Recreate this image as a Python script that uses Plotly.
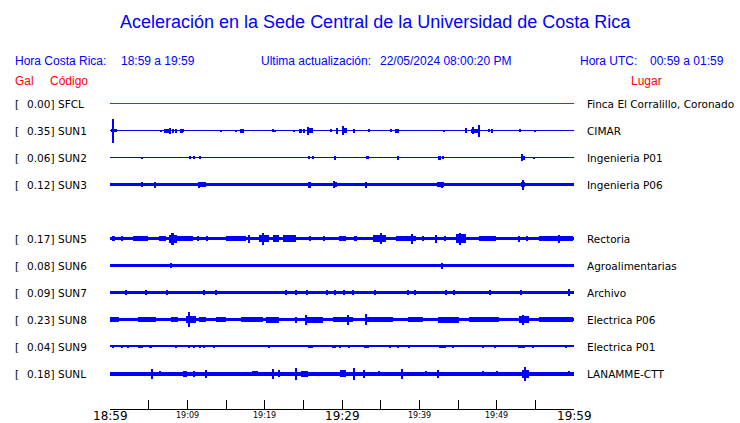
import plotly.graph_objects as go

# ---------------- data ----------------
TITLE = "Aceleración en la Sede Central de la Universidad de Costa Rica"
HORA_CR = "18:59 a 19:59"
ULTIMA = "22/05/2024 08:00:20 PM"
HORA_UTC = "00:59 a 01:59"

codes = ["SFCL", "SUN1", "SUN2", "SUN3", "SUN5", "SUN6", "SUN7", "SUN8", "SUN9", "SUNL"]
peak_gal = [0.00, 0.35, 0.06, 0.12, 0.17, 0.08, 0.09, 0.23, 0.04, 0.18]
places = ["Finca El Corralillo, Coronado", "CIMAR", "Ingenieria P01", "Ingenieria P06",
          "Rectoria", "Agroalimentarias", "Archivo", "Electrica P06", "Electrica P01",
          "LANAMME-CTT"]

# background noise level of each record (relative amplitude units)
noise = [0.5, 0.5, 0.5, 1.7, 1.9, 1.1, 1.7, 1.9, 0.6, 2.0]

# bursts read from the records: (start minute, end minute, amplitude)
bursts = {
    "SFCL": [],
    "SUN1": [(0.1, 0.9, 1.8), (0.43, 0.43, 12), (6.6, 6.6, 1), (7.0, 7.6, 2), (7.7, 7.7, 3),
             (8.0, 8.3, 2), (8.4, 8.7, 2), (9.0, 9.4, 2), (9.5, 9.5, 1.5), (14.4, 14.4, 1),
             (16.3, 16.3, 1), (16.8, 17.3, 2), (21.0, 21.2, 1.5), (21.4, 21.4, 1), (23.8, 23.8, 1),
             (24.5, 24.8, 2), (25.0, 25.2, 2), (25.5, 26.3, 2.3), (25.6, 25.6, 4), (28.6, 28.6, 1.5),
             (29.4, 29.4, 3), (30.0, 30.6, 2.5), (30.1, 30.1, 4.5), (31.5, 31.5, 2), (33.5, 33.5, 1.5),
             (36.3, 36.3, 1.5), (36.9, 37.4, 2), (43.2, 43.2, 1), (45.9, 46.2, 2.5), (46.7, 47.5, 2),
             (47.0, 47.0, 3.5), (47.5, 47.9, 2), (47.7, 47.7, 6), (49.0, 49.0, 1.5), (49.4, 49.4, 2),
             (53.0, 53.0, 1.5), (55.0, 55.0, 1)],
    "SUN2": [(4.2, 4.2, 1), (10.2, 10.5, 1.5), (10.8, 10.8, 1.5), (11.6, 11.6, 1.5), (25.6, 25.9, 1.5),
             (26.3, 26.3, 1.5), (29.0, 29.2, 2), (33.1, 33.5, 1.5), (37.3, 37.3, 2), (42.4, 42.8, 2),
             (43.0, 43.0, 1.5), (53.1, 53.7, 2), (53.3, 53.3, 3.5), (54.8, 54.8, 1)],
    "SUN3": [(4.2, 4.2, 2.5), (5.8, 5.8, 3), (11.5, 11.5, 3), (11.6, 12.4, 2.2), (25.6, 26.0, 3),
             (28.8, 29.4, 2.5), (29.0, 29.0, 3.5), (33.1, 33.1, 3), (42.3, 43.2, 2.3), (42.9, 42.9, 3),
             (53.2, 53.7, 2.5), (53.4, 53.4, 5)],
    "SUN5": [(0.3, 0.6, 2.7), (1.5, 1.7, 2.7), (3.0, 4.9, 2.8), (6.3, 7.2, 2.8), (7.6, 8.6, 4),
             (7.9, 8.3, 6), (8.5, 10.7, 2.8), (11.3, 11.5, 2.7), (12.5, 12.7, 2.7), (15.0, 17.6, 2.5),
             (18.0, 18.0, 4), (19.3, 20.6, 3.8), (19.8, 19.8, 6), (21.1, 21.9, 3.2), (22.4, 24.1, 3.2),
             (25.8, 26.0, 2.7), (27.6, 27.8, 2.7), (29.6, 30.5, 2.8), (31.5, 32.0, 2.7), (34.0, 35.7, 3.2),
             (35.0, 35.0, 5.5), (37.0, 39.6, 2.8), (39.1, 39.1, 5), (40.4, 40.6, 2.7), (42.2, 42.2, 4),
             (43.2, 43.4, 2.7), (44.7, 46.0, 4.2), (45.2, 45.2, 6), (47.7, 49.9, 2.8), (52.9, 52.9, 3),
             (53.8, 54.0, 2.7), (55.5, 59.9, 2.8), (58.0, 58.0, 4)],
    "SUN6": [(5.0, 5.0, 1.8), (7.9, 7.9, 2.5), (18.5, 18.5, 1.8), (30.0, 30.0, 1.8), (42.9, 42.9, 3),
             (45.5, 45.5, 1.8), (54.0, 54.0, 1.8)],
    "SUN7": [(2.1, 2.1, 2.6), (4.6, 4.6, 2.6), (7.4, 7.4, 2.6), (12.2, 12.2, 2.6), (13.7, 13.7, 2.6),
             (22.8, 22.8, 2.6), (24.1, 24.1, 2.6), (25.5, 25.5, 2.6), (28.1, 28.1, 2.6), (29.1, 29.1, 2.6),
             (30.2, 30.2, 2.6), (31.4, 31.4, 2.6), (34.3, 34.3, 2.6), (38.5, 38.5, 2.6), (39.4, 39.4, 2.6),
             (43.4, 43.4, 2.6), (44.5, 44.5, 2.6), (49.1, 49.1, 2.6), (53.1, 53.1, 2.6), (59.4, 59.4, 3.5)],
    "SUN8": [(0.0, 1.2, 2.9), (3.6, 6.0, 2.7), (7.9, 8.8, 2.9), (9.8, 11.1, 3.3), (10.2, 10.2, 7.5),
             (11.5, 12.4, 2.7), (13.7, 15.0, 2.7), (16.9, 19.8, 2.7), (20.2, 21.9, 3.0), (24.1, 24.1, 3),
             (25.3, 27.6, 3.0), (25.4, 25.4, 5), (28.8, 31.4, 2.7), (30.8, 30.8, 5), (33.1, 33.1, 5.5),
             (33.1, 36.6, 2.7), (38.5, 40.5, 2.7), (42.4, 45.1, 3.0), (46.4, 50.3, 2.7), (52.9, 54.2, 3.3),
             (53.4, 53.4, 5), (55.5, 59.9, 2.4)],
    "SUN9": [(0.4, 0.4, 1.5), (1.6, 1.6, 1.5), (2.3, 2.3, 1.5), (3.6, 4.3, 1.5), (5.1, 5.4, 1.5),
             (8.5, 8.5, 1.5), (10.2, 10.2, 1.5), (10.9, 10.9, 1.5), (11.6, 11.6, 1.5), (12.2, 12.2, 1.5),
             (13.5, 13.5, 1.5), (20.5, 20.5, 1.2), (25.6, 26.3, 1.5), (28.8, 28.8, 1.5), (29.1, 29.1, 1.5),
             (29.7, 29.7, 1.5), (30.9, 30.9, 1.5), (32.9, 33.5, 1.5), (36.2, 36.2, 1.2), (37.2, 37.2, 1.2),
             (38.6, 38.6, 1.2), (42.5, 43.4, 1.5), (44.3, 44.3, 1.2), (48.2, 48.2, 1.2), (49.8, 49.8, 1.5),
             (52.8, 53.7, 1.5), (54.7, 54.7, 1.2), (59.0, 59.0, 1.2)],
    "SUNL": [(5.4, 5.4, 5), (6.5, 6.5, 2.5), (9.5, 10.0, 3), (10.9, 10.9, 3), (12.4, 12.4, 4),
             (18.3, 19.2, 2.5), (21.1, 21.1, 5), (21.8, 21.8, 3.5), (24.1, 24.1, 6), (24.7, 25.6, 3),
             (29.8, 30.5, 3.5), (31.5, 31.5, 6), (32.9, 32.9, 4), (34.8, 34.8, 2.5), (37.8, 37.8, 5),
             (40.9, 40.9, 2.5), (42.4, 42.4, 4), (48.2, 48.2, 2.5), (50.1, 50.1, 2.5), (53.3, 54.2, 4),
             (53.6, 53.6, 7), (59.4, 59.4, 2.5)],
}

trace_colors = {"SFCL": "#ff0000"}
tick_minutes = list(range(0, 61, 5))
major_labels = {0: "18:59", 30: "19:29", 60: "19:59"}
minor_labels = {10: "19:09", 20: "19:19", 40: "19:39", 50: "19:49"}

# ---------------- layout helpers ----------------
W, H = 740, 423
ROW_ORDER = ["SFCL", "SUN1", "SUN2", "SUN3", "SUN4", "SUN5", "SUN6", "SUN7", "SUN8", "SUN9", "SUNL"]
ROW0, ROW_STEP = 103.5, 27.0
X0, X1 = 110, 574
AXIS_Y = 409
MIN_W = 0.13

BLUE = "#0000ff"
RED = "#ff0000"
HDR_FONT = "Liberation Sans, Arial, sans-serif"
LBL_FONT = "DejaVu Sans, sans-serif"

fig = go.Figure()

annotations = []

def px_ann(x, y, text, size, color, font, xanchor="left"):
    annotations.append(dict(x=x / W, xref="paper", y=y, yref="y", text=text, showarrow=False,
                            xanchor=xanchor, yanchor="middle",
                            font=dict(size=size, color=color, family=font)))

for code, gal, place, nz in zip(codes, peak_gal, places, noise):
    c = ROW0 + ROW_STEP * ROW_ORDER.index(code)
    color = trace_colors.get(code, BLUE)
    xs, ws, bases, hs = [30.0], [60.0], [c - nz], [2 * nz]
    for (s, e, a) in bursts[code]:
        xs.append((s + e) / 2)
        ws.append(max(e - s, MIN_W))
        bases.append(c - a)
        hs.append(2 * a)
    fig.add_trace(go.Bar(x=xs, y=hs, base=bases, width=ws, marker=dict(color=color, line=dict(width=0)),
                         showlegend=False, hoverinfo="skip"))
    px_ann(13, c, "[", 10.5, "black", LBL_FONT)
    px_ann(56, c, f"{gal:.2f}]", 10.5, "black", LBL_FONT, xanchor="right")
    px_ann(56, c, code, 10.5, "black", LBL_FONT)
    px_ann(585, c, place, 10.5, "black", LBL_FONT)

# header texts
annotations.append(dict(x=375 / W, xref="paper", y=22, yref="y", text=TITLE, showarrow=False,
                        xanchor="center", yanchor="middle",
                        font=dict(size=18, color=BLUE, family=HDR_FONT)))
px_ann(13, 60.5, "Hora Costa Rica:", 12, BLUE, HDR_FONT)
px_ann(119, 60.5, HORA_CR, 12, BLUE, HDR_FONT)
px_ann(259, 60.5, "Ultima actualización:", 12, BLUE, HDR_FONT)
px_ann(378, 60.5, ULTIMA, 12, BLUE, HDR_FONT)
px_ann(578, 60.5, "Hora UTC:", 12, BLUE, HDR_FONT)
px_ann(648, 60.5, HORA_UTC, 12, BLUE, HDR_FONT)
px_ann(13, 80.5, "Gal", 12, RED, HDR_FONT)
px_ann(48, 80.5, "Código", 12, RED, HDR_FONT)
px_ann(629, 80.5, "Lugar", 12, RED, HDR_FONT)

# time labels
for m, t in major_labels.items():
    annotations.append(dict(x=m, xref="x", y=416, yref="y", text=t, showarrow=False,
                            xanchor="center", yanchor="middle", borderpad=0,
                            font=dict(size=12, color="black", family=LBL_FONT)))
for m, t in minor_labels.items():
    annotations.append(dict(x=m, xref="x", y=415.5, yref="y", text=t, showarrow=False,
                            xanchor="center", yanchor="middle", borderpad=0,
                            font=dict(size=8, color="black", family=LBL_FONT)))

fig.update_layout(
    width=W, height=H, margin=dict(l=0, r=0, t=0, b=0),
    paper_bgcolor="white", plot_bgcolor="white",
    barmode="overlay", bargap=0,
    showlegend=False,
    annotations=annotations,
    xaxis=dict(domain=[X0 / W, X1 / W], range=[0, 60], anchor="free", position=(H - AXIS_Y) / H,
               showline=True, linecolor="black", linewidth=1, ticks="inside", ticklen=9,
               tickcolor="black", tickwidth=1, tickvals=tick_minutes, showticklabels=False,
               showgrid=False, zeroline=False, fixedrange=True),
    yaxis=dict(domain=[0, 1], range=[H, 0], visible=False, showgrid=False, zeroline=False,
               fixedrange=True),
)

fig.write_html("out.html", config={"displayModeBar": False},
               post_script="document.body.style.margin='0px';document.body.style.overflow='hidden';")
